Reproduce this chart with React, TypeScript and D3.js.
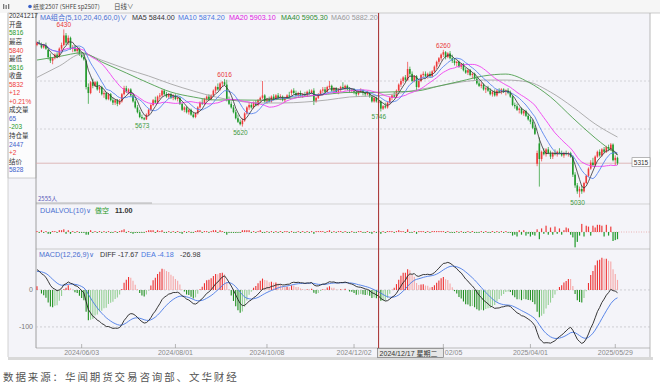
import { useRef, useEffect } from 'react';
import * as d3 from 'd3';

const FONT = '"Liberation Sans", Arial, sans-serif';
const CJK = '"Noto Sans CJK SC", "Noto Sans", sans-serif';

const UP = '#ee3a3a';
const DOWN = '#1f9a2a';
const BLUE = '#3d62cc';

// daily bars, 2024/05/06 .. 2025/05/30 (index 0..260)
const opens = [
  6300, 6320, 6305, 6280, 6300, 6260, 6200, 6170, 6190, 6220,
  6200, 6270, 6300, 6380, 6320, 6360, 6270, 6280, 6250, 6270,
  6220, 6200, 6170, 5950, 5900, 5990, 5960, 5990, 5930, 5950,
  5890, 5900, 5850, 5890, 5840, 5820, 5840, 5810, 5830, 5890,
  5940, 5910, 5930, 5880, 5830, 5780, 5740, 5700, 5690, 5680,
  5720, 5760, 5800, 5840, 5820, 5870, 5880, 5920, 5890, 5870,
  5890, 5860, 5880, 5850, 5860, 5810, 5760, 5780, 5740, 5760,
  5720, 5700, 5730, 5780, 5820, 5810, 5850, 5870, 5850, 5880,
  5920, 5950, 5930, 5980, 5990, 5970, 5850, 5810, 5780, 5740,
  5690, 5660, 5640, 5670, 5730, 5780, 5800, 5780, 5820, 5800,
  5840, 5860, 5880, 5830, 5850, 5830, 5870, 5850, 5880, 5860,
  5870, 5840, 5860, 5880, 5900, 5920, 5900, 5880, 5900, 5880,
  5890, 5880, 5910, 5900, 5920, 5830, 5860, 5890, 5920, 5930,
  5910, 5950, 5960, 5920, 5940, 5910, 5930, 5950, 5940, 5960,
  5930, 5920, 5930, 5910, 5890, 5910, 5920, 5900, 5890, 5900,
  5870, 5830, 5860, 5816, 5830, 5770, 5790, 5780, 5820, 5860,
  5880, 5870, 5920, 5970, 6000, 6030, 6010, 6100, 6060, 6000,
  6040, 5950, 6000, 6050, 6060, 6040, 6060, 6040, 6080, 6120,
  6160, 6190, 6220, 6240, 6200, 6230, 6190, 6170, 6150, 6160,
  6120, 6140, 6090, 6070, 6090, 6050, 6060, 6020, 5980, 5960,
  5970, 5930, 5940, 5920, 5890, 5910, 5880, 5920, 5910, 5930,
  5910, 5920, 5900, 5870, 5800, 5790, 5760, 5770, 5730, 5750,
  5710, 5680, 5660, 5610, 5310, 5480, 5350, 5410, 5390, 5430,
  5400, 5370, 5400, 5390, 5410, 5400, 5380, 5400, 5390, 5400,
  5370, 5220, 5130, 5080, 5100, 5080, 5150, 5210, 5270, 5320,
  5300, 5370, 5410, 5380, 5430, 5410, 5450, 5430, 5470, 5340,
  5360,
];
const highs = [
  6330, 6340, 6320, 6310, 6320, 6270, 6230, 6200, 6230, 6240,
  6280, 6320, 6430, 6400, 6380, 6370, 6300, 6300, 6280, 6280,
  6240, 6220, 6180, 5980, 6000, 6020, 6000, 6000, 5960, 5960,
  5920, 5910, 5900, 5900, 5860, 5850, 5850, 5850, 5900, 5960,
  5960, 5940, 5940, 5900, 5850, 5800, 5760, 5720, 5700, 5730,
  5770, 5810, 5850, 5870, 5880, 5900, 5930, 5930, 5910, 5900,
  5900, 5890, 5890, 5870, 5870, 5820, 5790, 5790, 5770, 5770,
  5740, 5740, 5790, 5830, 5850, 5860, 5880, 5890, 5890, 5930,
  5960, 5980, 5990, 6000, 6016, 6010, 5870, 5830, 5800, 5760,
  5720, 5680, 5690, 5740, 5790, 5820, 5820, 5830, 5840, 5850,
  5870, 6000, 5890, 5860, 5870, 5880, 5890, 5890, 5900, 5890,
  5880, 5870, 5890, 5910, 5930, 5940, 5920, 5910, 5920, 5900,
  5910, 5920, 5930, 5930, 5940, 5870, 5900, 5930, 5950, 5950,
  5960, 6000, 5970, 5950, 5950, 5940, 5960, 5990, 5970, 5970,
  5950, 5940, 5940, 5920, 5920, 5940, 5930, 5910, 5920, 5910,
  5880, 5870, 5870, 5840, 5840, 5800, 5820, 5830, 5870, 5890,
  5910, 5930, 5980, 6020, 6040, 6050, 6160, 6120, 6080, 6050,
  6050, 6010, 6060, 6080, 6080, 6070, 6080, 6090, 6130, 6170,
  6200, 6230, 6260, 6250, 6240, 6250, 6220, 6190, 6170, 6170,
  6150, 6150, 6110, 6100, 6100, 6070, 6070, 6030, 6000, 5990,
  5980, 5950, 5960, 5940, 5920, 5930, 5930, 5940, 5940, 5940,
  5930, 5940, 5920, 5880, 5820, 5810, 5780, 5780, 5760, 5760,
  5730, 5700, 5680, 5630, 5420, 5530, 5420, 5440, 5440, 5450,
  5420, 5410, 5430, 5420, 5440, 5420, 5410, 5420, 5410, 5410,
  5380, 5240, 5150, 5120, 5130, 5160, 5220, 5280, 5340, 5360,
  5380, 5420, 5430, 5440, 5450, 5460, 5470, 5483, 5480, 5380,
  5370,
];
const lows = [
  6290, 6300, 6270, 6270, 6260, 6180, 6150, 6140, 6180, 6190,
  6195, 6250, 6290, 6300, 6300, 6260, 6240, 6240, 6230, 6210,
  6190, 6170, 5930, 5810, 5890, 5940, 5950, 5920, 5900, 5880,
  5860, 5840, 5840, 5830, 5800, 5800, 5790, 5800, 5820, 5880,
  5900, 5890, 5870, 5820, 5770, 5730, 5690, 5680, 5673, 5675,
  5710, 5750, 5790, 5810, 5810, 5850, 5870, 5880, 5860, 5850,
  5850, 5840, 5840, 5830, 5800, 5750, 5740, 5730, 5720, 5710,
  5690, 5690, 5720, 5770, 5800, 5800, 5830, 5840, 5840, 5870,
  5900, 5920, 5920, 5950, 5960, 5830, 5800, 5770, 5730, 5680,
  5650, 5630, 5620, 5660, 5720, 5760, 5770, 5770, 5790, 5790,
  5820, 5850, 5820, 5810, 5820, 5820, 5840, 5840, 5850, 5840,
  5830, 5820, 5850, 5860, 5880, 5890, 5870, 5860, 5870, 5860,
  5870, 5870, 5890, 5890, 5800, 5820, 5850, 5880, 5900, 5900,
  5900, 5940, 5910, 5900, 5900, 5890, 5910, 5930, 5920, 5920,
  5900, 5900, 5890, 5870, 5880, 5900, 5880, 5870, 5880, 5860,
  5820, 5820, 5820, 5816, 5746, 5760, 5770, 5770, 5810, 5840,
  5860, 5860, 5910, 5950, 5980, 5990, 6000, 6040, 5990, 5990,
  5920, 5940, 5990, 6030, 6030, 6020, 6030, 6030, 6070, 6100,
  6140, 6170, 6200, 6180, 6190, 6180, 6150, 6130, 6120, 6110,
  6100, 6080, 6060, 6050, 6040, 6020, 6010, 5970, 5950, 5940,
  5920, 5900, 5910, 5880, 5870, 5870, 5870, 5900, 5890, 5900,
  5880, 5890, 5860, 5790, 5770, 5750, 5730, 5720, 5710, 5700,
  5670, 5640, 5600, 5550, 5290, 5120, 5330, 5380, 5370, 5390,
  5350, 5350, 5380, 5370, 5390, 5370, 5360, 5380, 5370, 5360,
  5200, 5110, 5060, 5030, 5060, 5070, 5140, 5200, 5260, 5290,
  5290, 5360, 5370, 5370, 5400, 5400, 5420, 5420, 5330, 5300,
  5300,
];
const closes = [
  6320, 6310, 6280, 6300, 6270, 6200, 6170, 6190, 6220, 6200,
  6270, 6300, 6380, 6320, 6360, 6270, 6280, 6250, 6270, 6220,
  6200, 6180, 5950, 5900, 5990, 5960, 5990, 5930, 5950, 5890,
  5900, 5850, 5890, 5840, 5820, 5840, 5810, 5830, 5890, 5940,
  5910, 5930, 5880, 5830, 5780, 5740, 5700, 5690, 5680, 5720,
  5760, 5800, 5840, 5820, 5870, 5880, 5920, 5890, 5870, 5890,
  5860, 5880, 5850, 5860, 5810, 5760, 5780, 5740, 5760, 5720,
  5700, 5730, 5780, 5820, 5810, 5850, 5870, 5850, 5880, 5920,
  5950, 5930, 5980, 5990, 5970, 5850, 5810, 5780, 5740, 5690,
  5660, 5640, 5670, 5730, 5780, 5800, 5780, 5820, 5800, 5840,
  5860, 5880, 5830, 5850, 5830, 5870, 5850, 5880, 5860, 5870,
  5840, 5860, 5880, 5870, 5920, 5900, 5880, 5900, 5880, 5890,
  5880, 5910, 5900, 5920, 5830, 5860, 5890, 5920, 5930, 5910,
  5950, 5960, 5920, 5940, 5910, 5930, 5950, 5940, 5960, 5930,
  5920, 5930, 5910, 5890, 5910, 5920, 5900, 5890, 5900, 5870,
  5830, 5860, 5830, 5832, 5770, 5790, 5780, 5820, 5860, 5880,
  5870, 5920, 5970, 6000, 6030, 6010, 6100, 6060, 6000, 6040,
  5950, 6000, 6050, 6060, 6040, 6060, 6040, 6080, 6120, 6160,
  6190, 6220, 6240, 6200, 6230, 6190, 6170, 6150, 6160, 6120,
  6140, 6090, 6070, 6090, 6050, 6060, 6020, 5980, 5960, 5970,
  5930, 5940, 5920, 5890, 5910, 5880, 5920, 5910, 5930, 5910,
  5920, 5900, 5870, 5800, 5790, 5760, 5770, 5730, 5750, 5710,
  5680, 5660, 5610, 5560, 5400, 5350, 5410, 5390, 5430, 5400,
  5370, 5400, 5390, 5410, 5400, 5380, 5400, 5390, 5400, 5370,
  5220, 5130, 5080, 5100, 5080, 5150, 5210, 5270, 5320, 5300,
  5370, 5410, 5380, 5430, 5410, 5450, 5430, 5470, 5340, 5360,
  5315,
];

// MA40 / MA60 every 10 bars (index 0, 10, ..., 260)
const ma40Read = [
  6175, 6205, 6235, 6150, 6067, 5983, 5908, 5867, 5842, 5842,
  5840, 5850, 5870, 5890, 5905, 5905, 5910, 5917, 5958, 6000,
  6042, 6058, 5992, 5867, 5692, 5525, 5383,
];
const ma60Read = [
  6030, 6125, 6225, 6167, 6100, 6042, 5975, 5917, 5867, 5833,
  5817, 5817, 5825, 5842, 5867, 5875, 5892, 5925, 5958, 5992,
  6008, 6008, 5992, 5908, 5783, 5642, 5533,
];

// DUALVOL(10) bars
const dualVol = [
  1, -1, 2, -1, 1, -2, -2, 1, 1, -1, 2, 2, 3, -2, 2, -2, 1, -1, 1, -1,
  -1, -1, -3, -3, 2, -1, 1, -1, 1, -1, 1, -1, 1, -1, -1, 1, -1, 1, 2, 3,
  -1, 1, -1, -2, -1, -1, -1, -1, -1, 1, 2, 2, 2, -1, 2, 1, 2, -1, -1, 1,
  -1, 1, -1, 1, -1, -2, 1, -1, 1, -1, -1, 1, 2, 2, -1, 1, 1, -1, 1, 2,
  2, -1, 2, 1, -1, -3, -1, -1, -1, -1, -1, -1, 2, 2, 2, 2, -1, 1, -1, 1,
  2, -1, -1, 1, -1, 1, -1, 1, -1, 1, -1, 1, 1, -1, 1, -1, -1, 1, -1, 1,
  -1, 1, -1, 1, -2, 1, 1, 1, 1, -1, 1, 2, -1, 1, -1, 1, 1, -1, 1, -1,
  -1, 1, -1, -1, 1, 1, -1, -1, 1, -1, -2, 1, -1, 1, -2, 1, -1, 1, 1, 1,
  -1, 1, 2, 1, 1, -1, 3, -1, -1, 1, -2, 1, 1, 1, -1, 1, -1, 1, 1, 1,
  1, 1, 1, -1, 1, -1, -1, -1, 1, -1, 1, -1, -1, 1, -1, 1, -1, -1, -1, 1,
  -1, 1, -1, -1, 1, -1, 1, -1, 1, -1, 1, -1, -1, -4, -3, -5, 2, -3, 2, -4,
  -2, -5, -3, -4, 3, -8, 4, -2, 7, -3, 5, -3, 6, -2, 4, -3, 2, 5, 4, -3,
  -6, -17, -11, -4, 9, -5, 7, 6, -4, 7, 5, 8, 8, 7, -5, 8, -4, 6, -10, -9,
  -8,
];

// DIFF / DEA at the first bar
const MACD_START = { diff: 55, dea: 50 };

const tickIndex = [20, 62, 103, 142, 182, 221, 259];
const tickLabels = ['2024/06/03', '2024/08/01', '2024/10/08', '2024/12/02', '2025/02/05', '2025/04/01', '2025/05/29'];

const CURSOR = 153;
const cursorLabel = '2024/12/17 星期二';

const peakIdx = [12, 84, 182];
const troughIdx = [48, 92, 154, 243];
const LAST_PRICE = 5315;

const infoRows: [string, string][] = [
  ['20241217', '#333'], ['开盘', '#333'], ['5816', DOWN], ['最高', '#333'], ['5840', UP],
  ['最低', '#333'], ['5816', DOWN], ['收盘', '#333'], ['5832', UP], ['+12', UP], ['+0.21%', UP],
  ['成交量', '#333'], ['65', BLUE], ['-203', DOWN], ['持仓量', '#333'], ['2447', BLUE], ['+2', UP],
  ['结价', '#333'], ['5828', BLUE],
];

const maLegend: [string, string, number][] = [
  ['MA5 5844.00', '#333', 132],
  ['MA10 5874.20', '#4a78e0', 178],
  ['MA20 5903.10', '#e020e0', 229],
  ['MA40 5905.30', '#2e8b2e', 281],
  ['MA60 5882.20', '#999', 331],
];

const LEFT = 36;
const RIGHT = 650;
const MAIN = { top: 13, bottom: 204 };
const VOL = { top: 204, bottom: 249 };
const MACDP = { top: 249, bottom: 348 };

function sma(n: number): number[] {
  return closes.map((_, i) => d3.mean(closes.slice(Math.max(0, i - n + 1), i + 1)) as number);
}

export default function App() {
  const svgRef = useRef<SVGSVGElement>(null);

  useEffect(() => {
    const svg = d3.select(svgRef.current);
    svg.selectAll('*').remove();

    const text = (x: number, y: number, s: string, color: string, size = 7, anchor = 'start', family = FONT) =>
      svg.append('text').attr('x', x).attr('y', y).attr('fill', color)
        .attr('font-size', size).attr('font-family', family).attr('text-anchor', anchor).text(s);

    const x = d3.scaleLinear().domain([0, closes.length - 1]).range([37, 617.5]);
    const y = d3.scaleLinear().domain([4975, 6567]).range([MAIN.bottom, MAIN.top]);
    const yV = d3.scaleLinear().domain([-20, 20]).range([250, 214]);
    const yM = d3.scaleLinear().domain([-157, 108]).range([MACDP.bottom, MACDP.top + 1]);

    // backgrounds
    svg.append('rect').attr('width', 660).attr('height', 391).attr('fill', '#fff');
    svg.append('rect').attr('x', 0).attr('y', 0).attr('width', 660).attr('height', 13).attr('fill', '#f6f6f6');
    svg.append('rect').attr('x', 8).attr('y', 13).attr('width', RIGHT - 8).attr('height', 344).attr('fill', '#f4f4f9');
    svg.append('rect').attr('x', 8).attr('y', 13).attr('width', 28).attr('height', 165)
      .attr('fill', '#fcfcfd').attr('stroke', '#b0b0b0').attr('stroke-width', 0.6);
    svg.append('rect').attr('x', 8).attr('y', 357).attr('width', 645).attr('height', 3).attr('fill', '#d9d9d9');

    // frame lines
    const hline = (y0: number, x1: number, x2: number, color: string, dash?: string, w = 0.7) => {
      const l = svg.append('line').attr('x1', x1).attr('x2', x2).attr('y1', y0).attr('y2', y0)
        .attr('stroke', color).attr('stroke-width', w);
      if (dash) l.attr('stroke-dasharray', dash);
    };
    hline(13, 36, 660, '#b8b8b8');
    hline(MAIN.bottom, LEFT, RIGHT, '#c4c4c4');
    hline(VOL.bottom, LEFT, RIGHT, '#b8b8b8');
    hline(MACDP.bottom, LEFT, RIGHT, '#a0a0a0');
    svg.append('line').attr('x1', LEFT).attr('x2', LEFT).attr('y1', 13).attr('y2', MACDP.bottom)
      .attr('stroke', '#8a8a8a').attr('stroke-width', 0.8);
    svg.append('line').attr('x1', RIGHT).attr('x2', RIGHT).attr('y1', 13).attr('y2', 357)
      .attr('stroke', '#a8a8a8').attr('stroke-width', 0.8);
    svg.append('line').attr('x1', 8).attr('x2', 8).attr('y1', 13).attr('y2', 357)
      .attr('stroke', '#c8c8c8').attr('stroke-width', 0.8);

    // grid
    [6000, 5600].forEach(p => hline(y(p), LEFT, RIGHT, '#c6c6cc', '2,2'));
    hline(y(LAST_PRICE), LEFT, RIGHT, '#d8aaaa', undefined, 0.8);
    [0, -100].forEach(v => hline(yM(v), LEFT, RIGHT, '#c0c0c6', '2,2'));
    hline(yV(0), LEFT, RIGHT, '#e59a9a', '1,1.5');

    const defs = svg.append('defs');
    defs.append('clipPath').attr('id', 'clip-main').append('rect')
      .attr('x', LEFT).attr('y', MAIN.top).attr('width', RIGHT - LEFT).attr('height', MAIN.bottom - MAIN.top);
    defs.append('clipPath').attr('id', 'clip-macd').append('rect')
      .attr('x', LEFT).attr('y', MACDP.top + 1).attr('width', RIGHT - LEFT).attr('height', MACDP.bottom - MACDP.top - 1);

    // candles
    const main = svg.append('g').attr('clip-path', 'url(#clip-main)');
    const colorOf = (i: number) => (closes[i] >= opens[i] ? UP : DOWN);
    main.selectAll('line.wick').data(closes).join('line')
      .attr('x1', (_, i) => x(i)).attr('x2', (_, i) => x(i))
      .attr('y1', (_, i) => y(highs[i])).attr('y2', (_, i) => y(lows[i]))
      .attr('stroke', (_, i) => colorOf(i)).attr('stroke-width', 0.7);
    main.selectAll('rect.body').data(closes).join('rect')
      .attr('x', (_, i) => x(i) - 0.8)
      .attr('y', (c, i) => y(Math.max(c, opens[i])))
      .attr('width', 1.6)
      .attr('height', (c, i) => Math.max(0.7, y(Math.min(c, opens[i])) - y(Math.max(c, opens[i]))))
      .attr('fill', (_, i) => colorOf(i));

    // moving averages
    const lineI = d3.line<number>().x((_, i) => x(i)).y(d => y(d));
    const sampleIdx = d3.range(0, closes.length, 10);
    const lineS = d3.line<number>().x((_, k) => x(sampleIdx[k])).y(d => y(d)).curve(d3.curveMonotoneX);
    main.append('path').attr('d', lineS(ma60Read)).attr('fill', 'none').attr('stroke', '#a6a6a6').attr('stroke-width', 0.9);
    main.append('path').attr('d', lineS(ma40Read)).attr('fill', 'none').attr('stroke', '#4f9f4f').attr('stroke-width', 0.9);
    main.append('path').attr('d', lineI(sma(20))).attr('fill', 'none').attr('stroke', '#f040f0').attr('stroke-width', 0.9);
    main.append('path').attr('d', lineI(sma(10))).attr('fill', 'none').attr('stroke', '#5a86ee').attr('stroke-width', 0.9);
    main.append('path').attr('d', lineI(sma(5))).attr('fill', 'none').attr('stroke', '#333').attr('stroke-width', 0.8);

    // high / low marks
    peakIdx.forEach(i => text(x(i), y(highs[i]) - 2, String(highs[i]), '#e83a3a', 6.5, 'middle'));
    troughIdx.forEach(i => text(x(i) - 2, y(lows[i]) + 8, String(lows[i]), '#3f9a3f', 6.5, 'middle'));

    // last price tag
    svg.append('rect').attr('x', 632).attr('y', y(LAST_PRICE) - 5.5).attr('width', 18).attr('height', 9)
      .attr('fill', '#fff').attr('stroke', '#8a8a8a').attr('stroke-width', 0.6);
    text(641, y(LAST_PRICE) + 1.5, String(LAST_PRICE), '#333', 6.5, 'middle');

    // DUALVOL bars
    svg.append('g').selectAll('rect').data(dualVol).join('rect')
      .attr('x', (_, i) => x(i) - 0.6)
      .attr('y', d => Math.min(yV(0), yV(d)))
      .attr('width', 1.2)
      .attr('height', d => Math.abs(yV(d) - yV(0)))
      .attr('fill', d => (d >= 0 ? UP : DOWN));

    // MACD(12,26,9)
    let e26 = closes[0] - 60;
    let e12 = e26 + MACD_START.diff;
    let dea = MACD_START.dea;
    const diffs: number[] = [];
    const deas: number[] = [];
    closes.forEach((c, i) => {
      if (i > 0) {
        e12 = e12 * 11 / 13 + c * 2 / 13;
        e26 = e26 * 25 / 27 + c * 2 / 27;
        dea = dea * 0.8 + (e12 - e26) * 0.2;
      }
      diffs.push(i > 0 ? e12 - e26 : MACD_START.diff);
      deas.push(dea);
    });
    const hist = diffs.map((d, i) => 2 * (d - deas[i]));
    const macd = svg.append('g').attr('clip-path', 'url(#clip-macd)');
    macd.selectAll('line').data(hist).join('line')
      .attr('x1', (_, i) => x(i)).attr('x2', (_, i) => x(i))
      .attr('y1', yM(0)).attr('y2', d => yM(d))
      .attr('stroke', (d, i) => {
        const prev = i > 0 ? hist[i - 1] : d;
        if (d >= 0) return d >= prev ? '#ee3030' : '#f6a8a8';
        return d <= prev ? '#1f8f1f' : '#94cf94';
      })
      .attr('stroke-width', 1.1);
    const lineM = d3.line<number>().x((_, i) => x(i)).y(d => yM(d));
    macd.append('path').attr('d', lineM(deas)).attr('fill', 'none').attr('stroke', '#4a7be6').attr('stroke-width', 0.9);
    macd.append('path').attr('d', lineM(diffs)).attr('fill', 'none').attr('stroke', '#222').attr('stroke-width', 0.9);
    text(33, yM(0) + 2.5, '0', '#777', 7, 'end');
    text(33, yM(-100) + 2.5, '-100', '#777', 7, 'end');

    // cursor
    const cx = x(CURSOR);
    const boxW = 66;
    const boxRight = cx - 1 + boxW;

    // x axis; a label that runs under the cursor tag shows only its visible tail
    tickIndex.forEach((t, k) => {
      svg.append('line').attr('x1', x(t)).attr('x2', x(t)).attr('y1', MACDP.bottom - 4).attr('y2', MACDP.bottom)
        .attr('stroke', '#999').attr('stroke-width', 0.7);
      const left = x(t) - 19;
      if (left < boxRight && x(t) + 19 > cx - 1) {
        text(x(t) + 19, 355, tickLabels[k].slice(5), '#8a8a8a', 7, 'end');
      } else {
        text(x(t), 355, tickLabels[k], '#8a8a8a', 7, 'middle');
      }
    });

    svg.append('line').attr('x1', cx).attr('x2', cx).attr('y1', 13).attr('y2', MACDP.bottom)
      .attr('stroke', '#a52a2a').attr('stroke-width', 1);
    svg.append('rect').attr('x', cx - 1).attr('y', 348.5).attr('width', boxW).attr('height', 9)
      .attr('fill', '#e6e6e6').attr('stroke', '#666').attr('stroke-width', 0.6);
    text(cx + 1, 355.5, cursorLabel, '#333', 7, 'start', FONT + ', ' + CJK);

    // top bar
    [3, 5.5, 8].forEach((bx, k) => svg.append('rect').attr('x', bx).attr('y', 4 + (k % 2)).attr('width', 1.3)
      .attr('height', 5 - (k % 2)).attr('fill', '#777'));
    svg.append('circle').attr('cx', 30).attr('cy', 6.5).attr('r', 1.8).attr('fill', '#3a60c8');
    text(33, 9, '纸浆2507 (SHFE sp2507)', '#444', 6, 'start', CJK);
    text(114, 9, '日线∨', '#444', 6.5, 'start', CJK);

    // legends
    text(40, 20, 'MA组合(5,10,20,40,60,0)∨', '#4a6fd0', 7.2, 'start', FONT + ', ' + CJK);
    maLegend.forEach(([s, c, lx]) => text(lx, 20, s, c, 7.2));
    text(38, 200.5, '2555人', '#5a5ab8', 6, 'start', CJK);
    hline(203, LEFT, 152, '#9a9a9a');
    text(40, 212.5, 'DUALVOL(10)∨', '#4a6fd0', 7.2);
    text(95, 212.5, '做空', '#2a9a2a', 7, 'start', CJK);
    text(115, 212.5, '11.00', '#333', 7.2).attr('font-weight', 'bold');
    text(39, 257, 'MACD(12,26,9)∨', '#4a6fd0', 7.2);
    text(100, 257, 'DIFF -17.67', '#333', 7.2);
    text(141, 257, 'DEA -4.18', '#4a78e0', 7.2);
    text(180, 257, '-26.98', '#333', 7.2);

    // info column
    infoRows.forEach(([s, c], k) => text(9, 18.3 + k * 8.55, s, c, 6.5, 'start', FONT + ', ' + CJK));

    // source caption
    text(3, 380.5, '数据来源：华闻期货交易咨询部、文华财经', '#555', 10.5, 'start', CJK)
      .attr('letter-spacing', 1.9);
  }, []);

  return (
    <svg ref={svgRef} width={660} height={391}
      style={{ position: 'absolute', left: 0, top: 0, display: 'block' }} />
  );
}
